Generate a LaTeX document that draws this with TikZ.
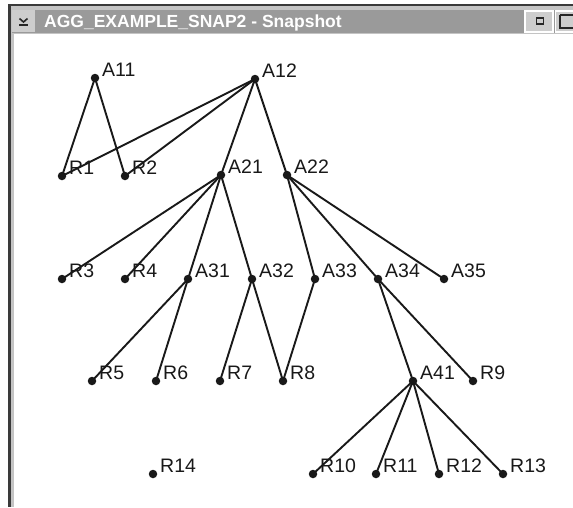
\documentclass[tikz,border=0pt]{standalone}
\usepackage{fontspec}
\setmainfont{Liberation Sans}
\definecolor{barg}{HTML}{9A9A9A}
\definecolor{btng}{HTML}{CDCDCD}
\definecolor{frameg}{HTML}{C4C4C4}
\definecolor{darkf}{HTML}{3A3A3A}
\begin{document}
\begin{tikzpicture}[x=1pt,y=-1pt,
  dot/.style={circle,fill=black!90,inner sep=0pt,minimum size=8.5pt},
  lab/.style={anchor=base west,inner sep=0pt,font=\fontsize{19.5}{21}\selectfont,text=black!90},
  edge/.style={line width=1.9pt,black!90},
  titletext/.style={anchor=base west,inner sep=0pt,font=\fontsize{17.5}{19}\selectfont\bfseries,text=white}]
\useasboundingbox (0,0) rectangle (573,507);
\fill[white] (0,0) rectangle (573,507);
% window frame
\fill[frameg] (8,5) rectangle (573,10);
\fill[frameg] (8,5) rectangle (14,507);
\fill[darkf] (8,4) rectangle (573,6);
\fill[darkf] (8,4) rectangle (10.5,507);
\fill[barg] (12,10) rectangle (573,32.5);
\draw[frameg,line width=1pt] (12,33.5) -- (573,33.5);
% menu button
\fill[btng] (12,10) rectangle (35,32);
\draw[black!85,line width=1.6pt] (19.5,18.5) -- (23.5,22) -- (27.5,18.5);
\draw[black!85,line width=1.6pt] (19,25) -- (28,25);
\node[titletext] (title) at (44,27) {AGG\_EXAMPLE\_SNAP2 - Snapshot};
% right buttons
\fill[white] (524,10) rectangle (554,33);
\fill[btng] (526,12) rectangle (552,31);
\draw[black!85,line width=1.8pt] (536.5,18) rectangle (543.5,24);
\fill[white] (554.5,10) rectangle (573,33);
\fill[btng] (556,12) rectangle (573,31);
\draw[black!85,line width=1.8pt] (560,15) -- (573,15) (560,15) -- (560,28) -- (573,28);
% nodes
\newcommand\nd[4]{\node[dot] (#1) at (#2,#3) {};\node[lab] (#1-l) at ([xshift=7pt,yshift=2pt]#1.center) {#4};}
\nd{A11}{95}{78}{A11}
\nd{A12}{255}{79}{A12}
\nd{R1}{62}{176}{R1}
\nd{R2}{125}{176}{R2}
\nd{A21}{221}{175}{A21}
\nd{A22}{287}{175}{A22}
\nd{R3}{62}{279}{R3}
\nd{R4}{125}{279}{R4}
\nd{A31}{188}{279}{A31}
\nd{A32}{252}{279}{A32}
\nd{A33}{315}{279}{A33}
\nd{A34}{378}{279}{A34}
\nd{A35}{444}{279}{A35}
\nd{R5}{92}{381}{R5}
\nd{R6}{156}{381}{R6}
\nd{R7}{220}{381}{R7}
\nd{R8}{283}{381}{R8}
\nd{A41}{413}{381}{A41}
\nd{R9}{473}{381}{R9}
\nd{R14}{153}{474}{R14}
\nd{R10}{313}{474}{R10}
\nd{R11}{376}{474}{R11}
\nd{R12}{439}{474}{R12}
\nd{R13}{503}{474}{R13}
% edges
\foreach \a/\b in {A11/R1,A11/R2,A12/R1,A12/R2,A12/A21,A12/A22,
  A21/R3,A21/R4,A21/A31,A21/A32,A22/A33,A22/A34,A22/A35,
  A31/R5,A31/R6,A32/R7,A32/R8,A33/R8,A34/A41,A34/R9,
  A41/R10,A41/R11,A41/R12,A41/R13}
  \draw[edge] (\a.center) -- (\b.center);
\end{tikzpicture}
\end{document}
